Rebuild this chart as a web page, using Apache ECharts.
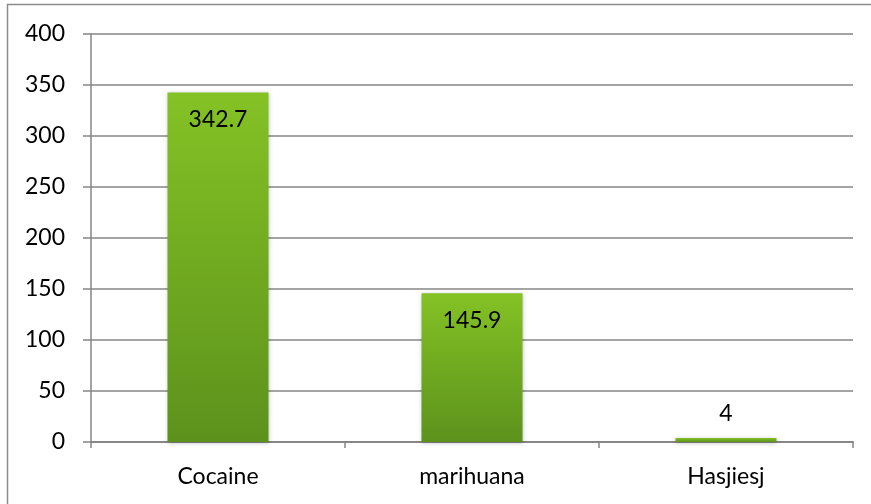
<!DOCTYPE html>
<html>
<head>
<meta charset="utf-8">
<script src="https://cdn.jsdelivr.net/npm/echarts@6/dist/echarts.min.js"></script>
<style>
html,body{margin:0;padding:0;background:#fff;}
#c{width:871px;height:504px;}
</style>
</head>
<body>
<div id="c"></div>
<script>
const categories = ['Cocaine', 'marihuana', 'Hasjiesj'];
const values = [342.7, 145.9, 4];
const labelPositions = ['insideTop', 'insideTop', 'top'];

const chart = echarts.init(document.getElementById('c'), null, {renderer: 'canvas'});
const FONT = 'Lato';
const FS = 23;
const gradient = new echarts.graphic.LinearGradient(0, 0, 0, 1, [
  {offset: 0, color: '#84c225'},
  {offset: 1, color: '#5c921c'}
]);
chart.setOption({
  animation: false,
  backgroundColor: '#ffffff',
  graphic: [{
    type: 'rect',
    shape: {x: 7.5, y: 4.5, width: 1000, height: 1000},
    style: {fill: 'none', stroke: '#8c8c8c', lineWidth: 1.5},
    silent: true
  }],
  grid: {left: 91, right: 18, top: 34, bottom: 62, containLabel: false},
  xAxis: {
    type: 'category',
    data: categories,
    axisLine: {lineStyle: {color: '#868686', width: 2}},
    axisTick: {show: true, length: 6, lineStyle: {color: '#868686', width: 1.5}},
    axisLabel: {color: '#000', fontFamily: FONT, fontSize: FS, margin: 23}
  },
  yAxis: {
    type: 'value',
    min: 0, max: 400, interval: 50,
    axisLine: {show: true, lineStyle: {color: '#868686', width: 1.5}},
    axisTick: {show: true, length: 8, lineStyle: {color: '#868686', width: 1.5}},
    splitLine: {lineStyle: {color: '#868686', width: 1.5}},
    axisLabel: {color: '#000', fontFamily: FONT, fontSize: FS, margin: 26}
  },
  series: [{
    type: 'bar',
    data: values.map((v, i) => ({
      value: v,
      label: {position: labelPositions[i], distance: labelPositions[i] === 'top' ? 13 : 16}
    })),
    barWidth: 101,
    itemStyle: {
      color: gradient,
      shadowColor: 'rgba(0,0,0,0.25)',
      shadowBlur: 4,
      shadowOffsetX: 0,
      shadowOffsetY: 1
    },
    label: {
      show: true,
      color: '#000',
      fontFamily: FONT,
      fontSize: FS
    }
  }]
});
</script>
</body>
</html>
